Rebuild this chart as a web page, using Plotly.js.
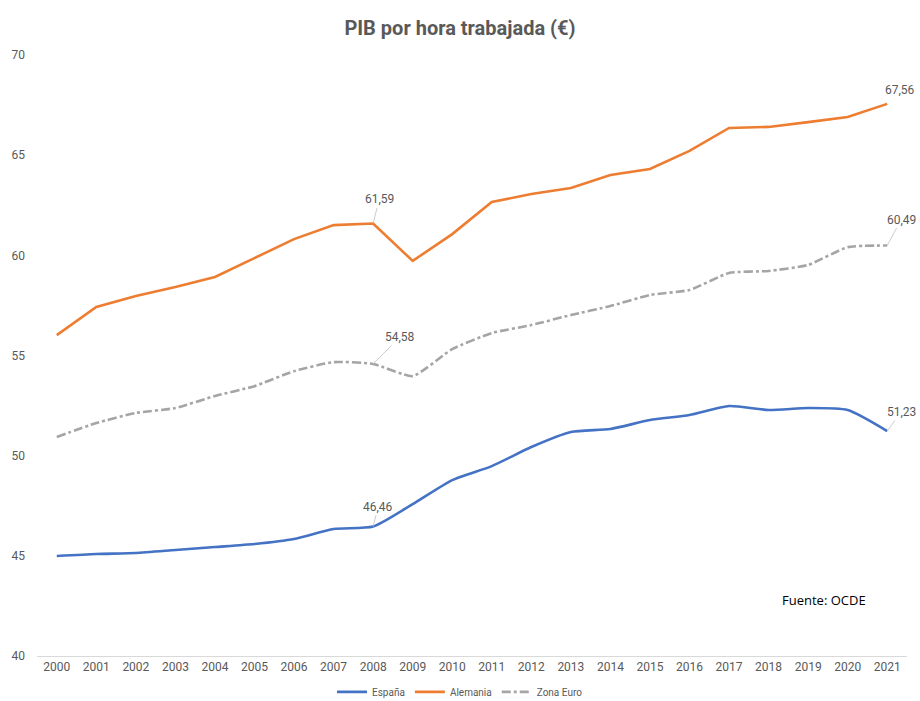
<!DOCTYPE html>
<html><head><meta charset="utf-8">
<script src="https://cdn.plot.ly/plotly-3.0.1.min.js"></script>
<style>body{margin:0;background:#fff}#c{width:920px;height:701px}</style>
</head><body><div id="c"></div>
<script>
const years = ['2000','2001','2002','2003','2004','2005','2006','2007','2008','2009','2010','2011','2012','2013','2014','2015','2016','2017','2018','2019','2020','2021'];
const espana = [44.99,45.09,45.14,45.29,45.44,45.59,45.84,46.34,46.46,47.58,48.78,49.48,50.43,51.18,51.33,51.78,52.03,52.48,52.28,52.38,52.28,51.23];
const alemania = [56.02,57.42,57.97,58.42,58.92,59.87,60.81,61.51,61.59,59.72,61.06,62.66,63.06,63.36,64.01,64.31,65.21,66.36,66.41,66.65,66.90,67.56];
const zonaEuro = [50.93,51.63,52.13,52.38,52.98,53.47,54.22,54.67,54.58,53.97,55.32,56.12,56.52,57.02,57.47,58.02,58.27,59.12,59.22,59.52,60.41,60.49];
const seriesNames = ['España','Alemania','Zona Euro'];
const labelPoints = [
  {s:1,i:8,ax:6,ay:-24,arrow:true},
  {s:2,i:8,ax:27,ay:-27,arrow:true},
  {s:0,i:8,ax:5,ay:-20,arrow:true},
  {s:1,i:21,ax:13,ay:-14,arrow:false},
  {s:2,i:21,ax:14,ay:-26,arrow:true},
  {s:0,i:21,ax:14,ay:-19,arrow:true}
];
const data = [espana, alemania, zonaEuro];
const fmt = v => v.toFixed(2).replace('.', ',');
const font = 'Roboto, "DejaVu Sans", sans-serif';
const traces = [
  {x:years,y:espana,name:seriesNames[0],mode:'lines',line:{color:'#4472C4',width:2.6,shape:'spline',smoothing:0.6}},
  {x:years,y:alemania,name:seriesNames[1],mode:'lines',line:{color:'#ED7D31',width:2.6}},
  {x:years,y:zonaEuro,name:seriesNames[2],mode:'lines',line:{color:'#A5A5A5',width:2.6,dash:'dashdot',shape:'spline',smoothing:0.5}}
];
const annotations = labelPoints.map(p => {
  const base = {x: p.i, y: data[p.s][p.i], xref:'x', yref:'y',
    text: fmt(data[p.s][p.i]), font:{family:font,size:12,color:'#595959'}};
  if (p.arrow) return Object.assign(base, {showarrow:true, arrowhead:0, arrowwidth:0.8, arrowcolor:'#BFBFBF', ax:p.ax, ay:p.ay, standoff:0});
  return Object.assign(base, {showarrow:false, xshift:p.ax, yshift:-p.ay});
});
annotations.push({text:'Fuente: OCDE', xref:'paper', yref:'paper', x:0.905, xanchor:'center', y:0.093, yanchor:'middle', showarrow:false,
  font:{family:'"Open Sans", sans-serif', size:13, color:'#000'}});
const layout = {
  width:920, height:701,
  margin:{l:37,r:13,t:55,b:45},
  paper_bgcolor:'#fff', plot_bgcolor:'#fff',
  title:{text:'<b>PIB por hora trabajada (€)</b>', x:0.5, xanchor:'center', y:0.97, font:{family:font,size:20,color:'#595959'}},
  xaxis:{type:'category', range:[-0.5,21.5], autorange:false, showgrid:false, showline:true, linecolor:'#D9D9D9', linewidth:1, ticks:'',
    tickfont:{family:font,size:12,color:'#595959'}, zeroline:false},
  yaxis:{range:[40,70], autorange:false, dtick:5, showgrid:false, zeroline:false, showline:false, ticks:'',
    ticklabelstandoff:11, tickfont:{family:font,size:12,color:'#595959'}},
  showlegend:true,
  legend:{orientation:'h', x:0.5, xanchor:'center', xref:'container', y:0.013, yanchor:'middle', yref:'container', font:{family:font,size:10,color:'#595959'}},
  annotations
};
Plotly.newPlot('c', traces, layout, {displayModeBar:false});
</script></body></html>
